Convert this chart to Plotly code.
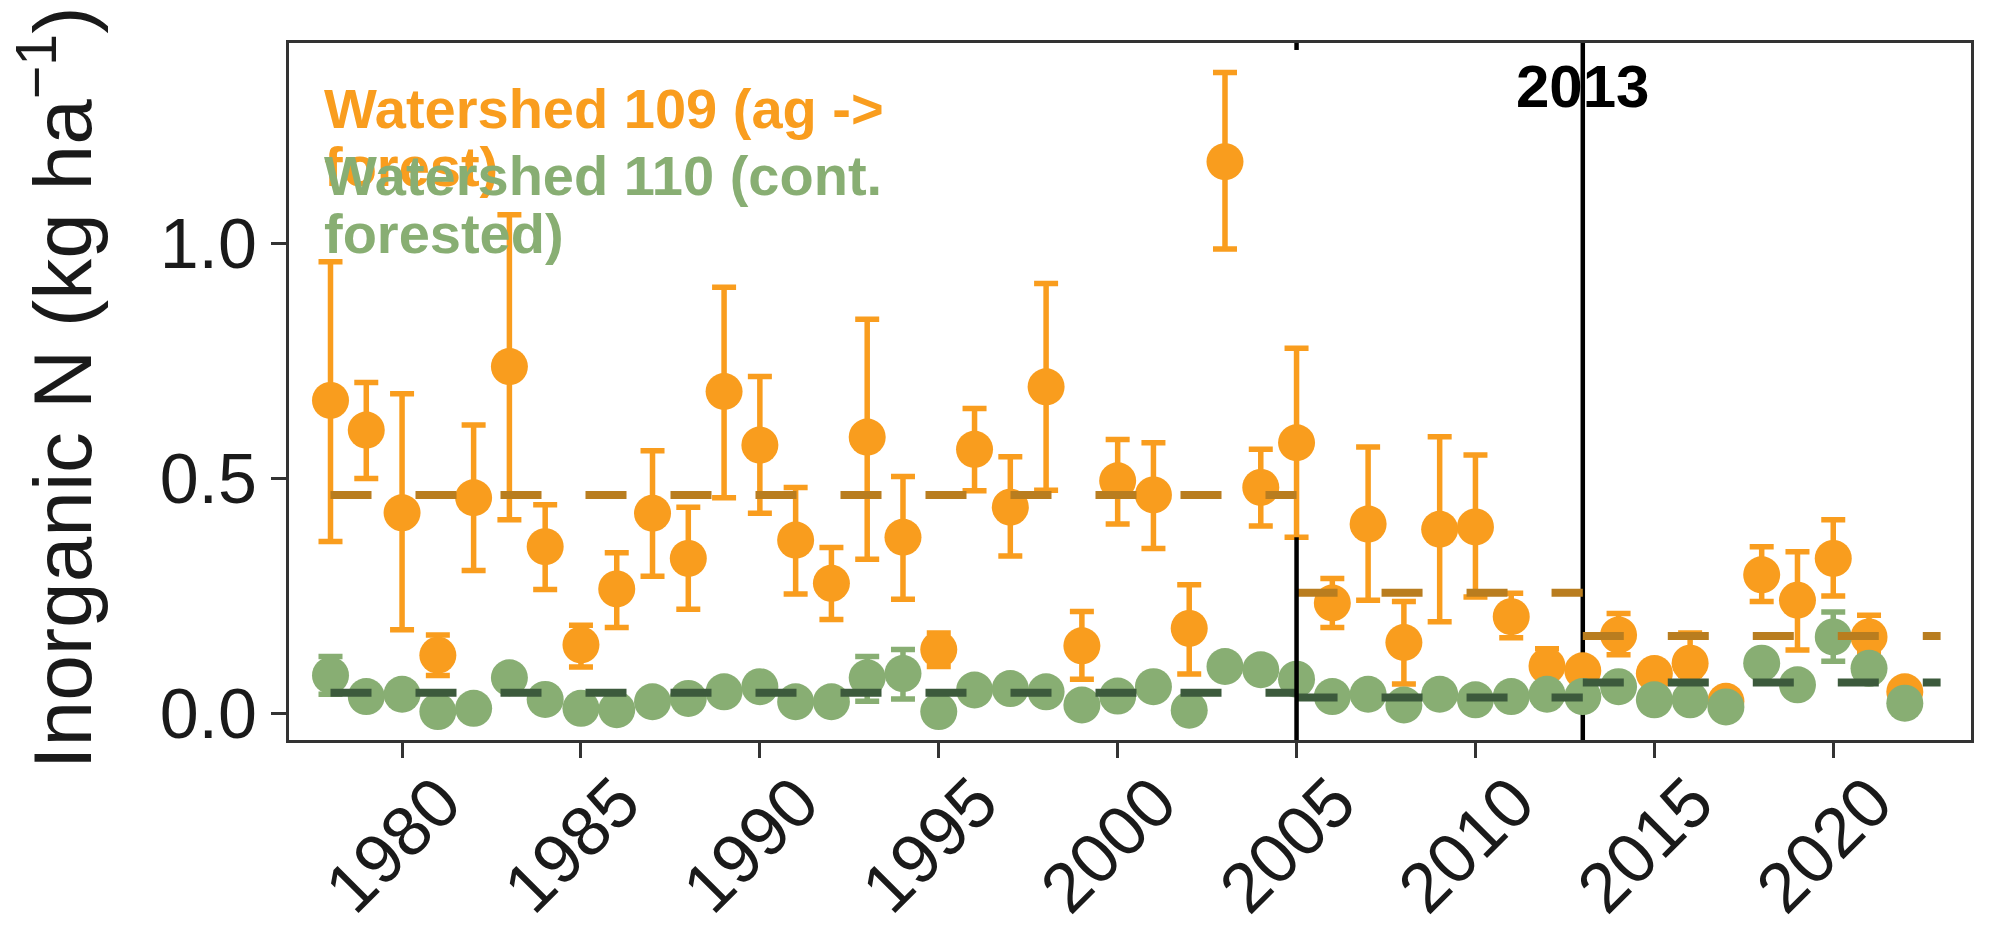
import plotly.graph_objects as go

# ---------------- data ----------------
years = list(range(1978, 2023))

ws109_mean = [0.665, 0.602, 0.426, 0.123, 0.458, 0.737, 0.354, 0.145, 0.264, 0.425,
              0.329, 0.684, 0.570, 0.368, 0.276, 0.587, 0.374, 0.135, 0.561, 0.438,
              0.694, 0.143, 0.494, 0.464, 0.180, 1.173, 0.480, 0.575, 0.234, 0.402,
              0.150, 0.391, 0.396, 0.205, 0.100, 0.090, 0.166, 0.084, 0.106, 0.025,
              0.294, 0.240, 0.329, 0.162, 0.045]
ws109_low = [0.365, 0.499, 0.177, 0.080, 0.303, 0.411, 0.263, 0.098, 0.182, 0.291,
             0.221, 0.458, 0.425, 0.253, 0.199, 0.327, 0.242, 0.099, 0.473, 0.334,
             0.474, 0.072, 0.402, 0.350, 0.083, 0.987, 0.398, 0.374, 0.182, 0.240,
             0.062, 0.194, 0.247, 0.160, 0.077, 0.070, 0.124, 0.070, 0.080, 0.015,
             0.237, 0.134, 0.249, 0.127, 0.035]
ws109_high = [0.960, 0.703, 0.679, 0.166, 0.613, 1.060, 0.443, 0.187, 0.341, 0.558,
              0.438, 0.906, 0.716, 0.480, 0.352, 0.838, 0.503, 0.170, 0.648, 0.545,
              0.914, 0.216, 0.582, 0.575, 0.273, 1.363, 0.561, 0.776, 0.286, 0.566,
              0.237, 0.588, 0.549, 0.255, 0.137, 0.110, 0.212, 0.100, 0.170, 0.035,
              0.354, 0.343, 0.411, 0.208, 0.055]

ws110_mean = [0.080, 0.035, 0.040, 0.003, 0.010, 0.075, 0.029, 0.010, 0.007, 0.024,
              0.031, 0.045, 0.056, 0.024, 0.024, 0.075, 0.084, 0.003, 0.049, 0.052,
              0.045, 0.017, 0.036, 0.056, 0.006, 0.099, 0.092, 0.072, 0.035, 0.040,
              0.017, 0.040, 0.028, 0.035, 0.040, 0.035, 0.056, 0.028, 0.028, 0.013,
              0.106, 0.060, 0.162, 0.095, 0.021]
ws110_low = [0.040, 0.028, 0.032, 0.000, 0.004, 0.065, 0.022, 0.004, 0.002, 0.018,
             0.024, 0.038, 0.048, 0.018, 0.018, 0.025, 0.030, 0.000, 0.042, 0.045,
             0.038, 0.010, 0.029, 0.048, 0.001, 0.090, 0.084, 0.064, 0.028, 0.033,
             0.010, 0.033, 0.021, 0.028, 0.033, 0.028, 0.048, 0.021, 0.021, 0.007,
             0.096, 0.052, 0.110, 0.086, 0.015]
ws110_high = [0.120, 0.042, 0.048, 0.008, 0.016, 0.085, 0.036, 0.016, 0.012, 0.030,
              0.038, 0.052, 0.064, 0.030, 0.030, 0.120, 0.135, 0.008, 0.056, 0.059,
              0.052, 0.024, 0.043, 0.064, 0.011, 0.108, 0.100, 0.080, 0.042, 0.047,
              0.024, 0.047, 0.035, 0.042, 0.047, 0.042, 0.064, 0.035, 0.035, 0.019,
              0.116, 0.068, 0.215, 0.104, 0.027]

period_start = [1978, 2005, 2013]
period_end = [2005, 2013, 2023]
ws109_period_mean = [0.464, 0.256, 0.164]
ws110_period_mean = [0.043, 0.033, 0.065]

xtick_vals = [1980, 1985, 1990, 1995, 2000, 2005, 2010, 2015, 2020]
ytick_vals = [0.0, 0.5, 1.0]
ytick_text = ["0.0", "0.5", "1.0"]

label_109 = ["Watershed 109 (ag ->", "forest)"]
label_110 = ["Watershed 110 (cont.", "forested)"]
y_title = "Inorganic N (kg ha<sup>−1</sup>)"

# ---------------- style ----------------
ORANGE = "#F99D1E"
GREEN = "#88AE73"
ORANGE_DASH = "#B97D1F"
GREEN_DASH = "#3C5A3C"
AXIS = "#333333"
FONT = "Liberation Sans, Arial, sans-serif"

fig = go.Figure()

fig.add_trace(go.Scatter(
    x=years, y=ws109_mean, mode="markers",
    marker=dict(color=ORANGE, size=37),
    error_y=dict(type="data", symmetric=False,
                 array=[h - m for h, m in zip(ws109_high, ws109_mean)],
                 arrayminus=[m - l for m, l in zip(ws109_mean, ws109_low)],
                 color=ORANGE, thickness=5.5, width=12),
    showlegend=False, hoverinfo="skip"))

fig.add_trace(go.Scatter(
    x=years, y=ws110_mean, mode="markers",
    marker=dict(color=GREEN, size=37),
    error_y=dict(type="data", symmetric=False,
                 array=[h - m for h, m in zip(ws110_high, ws110_mean)],
                 arrayminus=[m - l for m, l in zip(ws110_mean, ws110_low)],
                 color=GREEN, thickness=5.5, width=12),
    showlegend=False, hoverinfo="skip"))

for s, e, m in zip(period_start, period_end, ws109_period_mean):
    fig.add_trace(go.Scatter(x=[s, e], y=[m, m], mode="lines",
                             line=dict(color=ORANGE_DASH, width=8, dash="41px,44px"),
                             showlegend=False, hoverinfo="skip"))
for s, e, m in zip(period_start, period_end, ws110_period_mean):
    fig.add_trace(go.Scatter(x=[s, e], y=[m, m], mode="lines",
                             line=dict(color=GREEN_DASH, width=8, dash="41px,44px"),
                             showlegend=False, hoverinfo="skip"))

# vertical reference lines
fig.add_shape(type="line", xref="x", yref="paper", x0=2013, x1=2013, y0=0, y1=1,
              line=dict(color="black", width=4.5), layer="below")
fig.add_shape(type="line", xref="x", yref="y", x0=2005, x1=2005, y0=-0.0574, y1=0.374,
              line=dict(color="black", width=4.5), layer="above")
fig.add_shape(type="line", xref="x", yref="paper", x0=2005, x1=2005, y0=0.99, y1=1.0,
              line=dict(color="black", width=4.5), layer="above")

annotations = [
    dict(x=2013, y=1.334, xref="x", yref="y", text="<b>2013</b>", showarrow=False,
         xanchor="center", yanchor="middle", font=dict(family=FONT, size=60, color="black")),
    dict(x=-0.139, y=0.505, xref="paper", yref="paper", text=y_title, textangle=-90,
         showarrow=False, xanchor="center", yanchor="middle",
         font=dict(family=FONT, size=82, color="#1a1a1a")),
]
lab_y = [1.286, 1.163]
for txt, yy in zip(label_109, lab_y):
    annotations.append(dict(x=1977.76, y=yy, xref="x", yref="y", text="<b>" + txt + "</b>",
                            showarrow=False, xanchor="left", yanchor="middle",
                            font=dict(family=FONT, size=56, color=ORANGE)))
lab_y2 = [1.144, 1.021]
for txt, yy in zip(label_110, lab_y2):
    annotations.append(dict(x=1977.76, y=yy, xref="x", yref="y", text="<b>" + txt + "</b>",
                            showarrow=False, xanchor="left", yanchor="middle",
                            font=dict(family=FONT, size=56, color=GREEN)))

fig.update_layout(
    width=1990, height=943,
    margin=dict(l=289, r=19, t=43, b=203, autoexpand=False),
    plot_bgcolor="white", paper_bgcolor="white",
    font=dict(family=FONT, color="black"),
    annotations=annotations,
    xaxis=dict(range=[1976.84, 2023.85], tickmode="array", tickvals=xtick_vals,
               tickangle=-45, tickfont=dict(size=70, color="#1a1a1a"),
               ticks="outside", ticklen=15, tickwidth=3, tickcolor=AXIS,
               ticklabelshift=38, ticklabelstandoff=-25,
               showline=True, mirror=True, linecolor=AXIS, linewidth=3,
               showgrid=False, zeroline=False),
    yaxis=dict(range=[-0.0574, 1.4255], tickmode="array", tickvals=ytick_vals,
               ticktext=ytick_text, tickfont=dict(size=70, color="#1a1a1a"),
               ticks="outside", ticklen=15, tickwidth=3, tickcolor=AXIS,
               showline=True, mirror=True, linecolor=AXIS, linewidth=3,
               showgrid=False, zeroline=False),
)

fig.write_html("out.html")
